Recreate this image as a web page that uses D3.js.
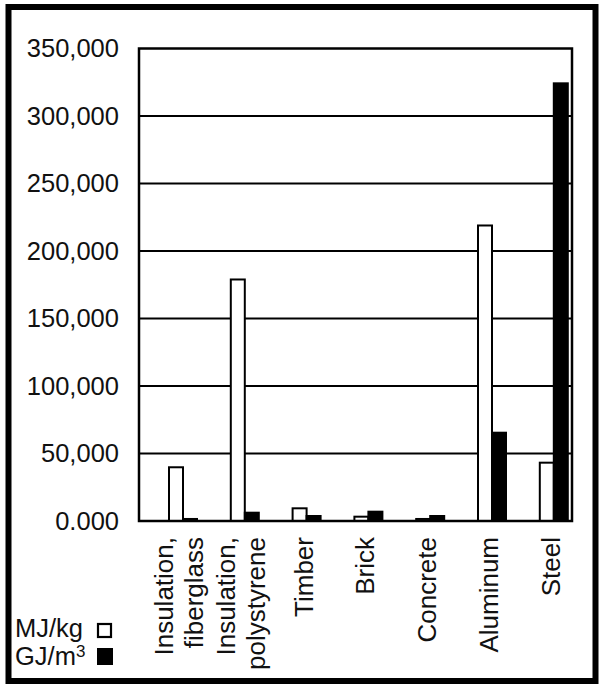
<!DOCTYPE html>
<html>
<head>
<meta charset="utf-8">
<script src="https://cdn.jsdelivr.net/npm/d3@7"></script>
<style>
  html, body { margin: 0; padding: 0; background: #fff; }
  svg { display: block; }
  text { font-family: "Liberation Sans", Arial, Helvetica, sans-serif; fill: #111; }
</style>
</head>
<body>
<svg id="chart" width="601" height="685"></svg>
<script>
// ---- data ----
const categories = ["Insulation, fiberglass", "Insulation, polystyrene", "Timber", "Brick", "Concrete", "Aluminum", "Steel"];
const seriesNames = ["MJ/kg", "GJ/m3"];
const mjPerKg = [39800, 178900, 9400, 3200, 1500, 218900, 43200];
const gjPerM3 = [1500, 6150, 3700, 6900, 3700, 65400, 324200];
const yTickValues = [0, 50000, 100000, 150000, 200000, 250000, 300000, 350000];
const yTickLabels = ["0.000", "50,000", "100,000", "150,000", "200,000", "250,000", "300,000", "350,000"];

// ---- layout ----
const svg = d3.select("#chart");
const plot = { left: 139, right: 572, top: 48.5, bottom: 521 };
const barW = 14;
const fontSize = 25.5;
const catFontSize = 26;

// outer frame
svg.append("rect")
  .attr("x", 8.5).attr("y", 7).attr("width", 587).attr("height", 674)
  .attr("fill", "#fff").attr("stroke", "#000").attr("stroke-width", 6);

const y = d3.scaleLinear().domain([0, 350000]).range([plot.bottom, plot.top]);
const x = d3.scaleBand().domain(categories).range([152.1, 584.7]).paddingInner(0).paddingOuter(0);
const xs = d3.scaleBand().domain(seriesNames).range([0, barW * 2]);

// gridlines
svg.append("g").selectAll("line")
  .data(yTickValues.filter(v => v > 0 && v < 350000))
  .join("line")
  .attr("x1", plot.left).attr("x2", plot.right)
  .attr("y1", d => y(d)).attr("y2", d => y(d))
  .attr("stroke", "#000").attr("stroke-width", 2.2);

// bars
const rows = categories.map((c, i) => ({ cat: c, vals: [mjPerKg[i], gjPerM3[i]] }));
const groups = svg.append("g").selectAll("g")
  .data(rows).join("g")
  .attr("transform", d => `translate(${x(d.cat) + x.bandwidth() / 2 - barW},0)`);
groups.selectAll("rect")
  .data(d => d.vals.map((v, j) => ({ s: seriesNames[j], v })))
  .join("rect")
  .attr("x", d => xs(d.s))
  .attr("width", xs.bandwidth())
  .attr("y", d => y(d.v))
  .attr("height", d => y(0) - y(d.v))
  .attr("fill", d => d.s === "MJ/kg" ? "#fff" : "#000")
  .attr("stroke", "#000").attr("stroke-width", 2);

// plot frame
svg.append("rect")
  .attr("x", plot.left).attr("y", plot.top)
  .attr("width", plot.right - plot.left).attr("height", plot.bottom - plot.top)
  .attr("fill", "none").attr("stroke", "#000").attr("stroke-width", 2.5);

// y axis labels
const yAxis = d3.axisLeft(y)
  .tickValues(yTickValues)
  .tickFormat((d, i) => yTickLabels[i])
  .tickSize(0).tickPadding(20);
const ya = svg.append("g").attr("transform", `translate(${plot.left},0)`).call(yAxis);
ya.select(".domain").remove();
ya.selectAll("text")
  .attr("font-size", fontSize)
  .attr("font-family", "Liberation Sans, Arial, sans-serif")
  .attr("fill", "#111");

// category labels (rotated)
const labelTop = 537;
const lab = svg.append("g").selectAll("g")
  .data(categories).join("g")
  .attr("transform", d => `translate(${x(d) + x.bandwidth() / 2},${labelTop}) rotate(-90)`);
lab.each(function(d) {
  const parts = d.includes(", ") ? [d.split(", ")[0] + ",", d.split(", ")[1]] : [d];
  const offs = parts.length === 2 ? [-10, 20] : [6];
  d3.select(this).selectAll("text")
    .data(parts).join("text")
    .attr("x", 0).attr("y", (p, i) => offs[i])
    .attr("text-anchor", "end")
    .attr("font-size", catFontSize)
    .text(p => p);
});

// legend
const legend = svg.append("g");
const legRows = [
  { name: "MJ/kg", fill: "#fff", base: 637 },
  { name: "GJ/m", sup: "3", fill: "#000", base: 665 }
];
legRows.forEach(r => {
  const t = legend.append("text").attr("x", 15).attr("y", r.base).attr("font-size", fontSize);
  t.append("tspan").text(r.name);
  if (r.sup) t.append("tspan").attr("font-size", 17).attr("dy", -8).text(r.sup);
});
legend.append("rect").attr("x", 98).attr("y", 624).attr("width", 13).attr("height", 13)
  .attr("fill", "#fff").attr("stroke", "#000").attr("stroke-width", 2.2);
legend.append("rect").attr("x", 97).attr("y", 648).attr("width", 16).attr("height", 17)
  .attr("fill", "#000");
</script>
</body>
</html>
